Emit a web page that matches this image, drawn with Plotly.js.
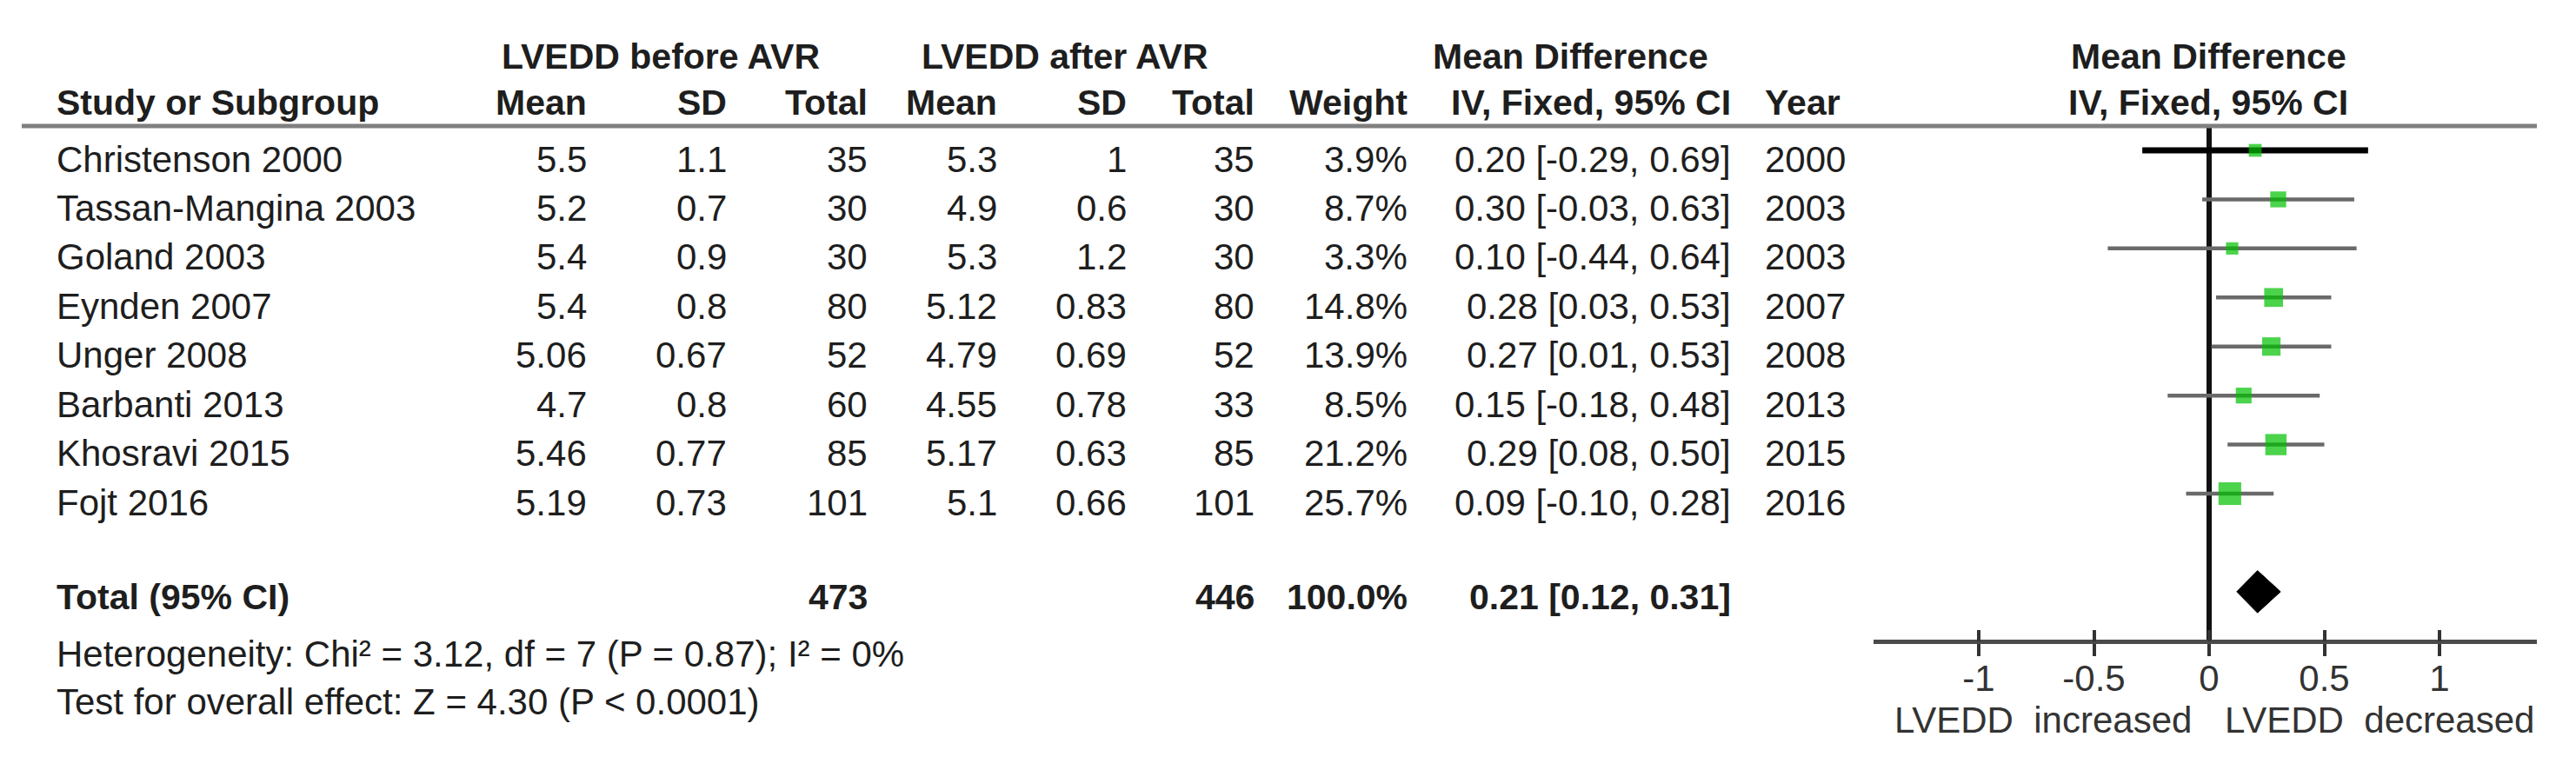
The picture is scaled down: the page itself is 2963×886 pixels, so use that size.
<!DOCTYPE html>
<html>
<head>
<meta charset="utf-8">
<script src="https://cdn.plot.ly/plotly-3.0.1.min.js"></script>
<style>html,body{margin:0;padding:0;background:#fff;}#chart{width:2963px;height:886px;}</style>
</head>
<body>
<div id="chart"></div>
<script>
// ---- data ----
const studies = ['Christenson 2000', 'Tassan-Mangina 2003', 'Goland 2003', 'Eynden 2007', 'Unger 2008', 'Barbanti 2013', 'Khosravi 2015', 'Fojt 2016'];
const meanBefore = [5.5, 5.2, 5.4, 5.4, 5.06, 4.7, 5.46, 5.19];
const sdBefore = [1.1, 0.7, 0.9, 0.8, 0.67, 0.8, 0.77, 0.73];
const nBefore = [35, 30, 30, 80, 52, 60, 85, 101];
const meanAfter = [5.3, 4.9, 5.3, 5.12, 4.79, 4.55, 5.17, 5.1];
const sdAfter = [1, 0.6, 1.2, 0.83, 0.69, 0.78, 0.63, 0.66];
const nAfter = [35, 30, 30, 80, 52, 33, 85, 101];
const weights = [3.9, 8.7, 3.3, 14.8, 13.9, 8.5, 21.2, 25.7];
const md = [0.20, 0.30, 0.10, 0.28, 0.27, 0.15, 0.29, 0.09];
const ciLow = [-0.29, -0.03, -0.44, 0.03, 0.01, -0.18, 0.08, -0.10];
const ciHigh = [0.69, 0.63, 0.64, 0.53, 0.53, 0.48, 0.50, 0.28];
const years = [2000, 2003, 2003, 2007, 2008, 2013, 2015, 2016];
const totalBefore = 473;
const totalAfter = 446;
const totalWeight = 100.0;
const totalMD = 0.21;
const totalLow = 0.12;
const totalHigh = 0.31;
const heterogeneity = 'Heterogeneity: Chi² = 3.12, df = 7 (P = 0.87); I² = 0%';
const overallTest = 'Test for overall effect: Z = 4.30 (P < 0.0001)';
const tickVals = [-1, -0.5, 0, 0.5, 1];
const tickText = ['-1', '-0.5', '0', '0.5', '1'];
const favourLeft = 'LVEDD  increased';
const favourRight = 'LVEDD  decreased';

// ---- layout helpers ----
const W = 2963, H = 886;
const ROW0 = 173, ROWSTEP = 56.43;
const yTop = -ROW0 / ROWSTEP, yBot = (H - ROW0) / ROWSTEP;
const rowOf = p => (p - ROW0) / ROWSTEP;
const px = x => x / W;
const FONT = 'Liberation Sans, Arial, sans-serif';
const TXT = '#1e1e1e';
const FS = 42;
const rowIdx = studies.map((_, i) => i);
const totalRow = 9;

const ann = [];
function t(text, x, y, anchor, opts) {
  opts = opts || {};
  ann.push({
    text: opts.bold ? '<b>' + text + '</b>' : text,
    x: px(x), xref: 'paper', xanchor: anchor,
    y: y, yref: 'y', yanchor: 'middle', yshift: opts.yshift || 0,
    showarrow: false,
    font: {family: FONT, size: opts.size || FS, color: opts.color || TXT}
  });
}

// headers
const h1 = rowOf(65), h2 = rowOf(118);
t('LVEDD before AVR', 760, h1, 'center', {bold: true, size: 41});
t('LVEDD after AVR', 1225, h1, 'center', {bold: true, size: 41});
t('Mean Difference', 1806, h1, 'center', {bold: true, size: 41});
t('Mean Difference', 2540, h1, 'center', {bold: true, size: 41});
t('Study or Subgroup', 63, h2, 'left', {bold: true, size: 41});
t('Mean', 677, h2, 'right', {bold: true, size: 41});
t('SD', 838, h2, 'right', {bold: true, size: 41});
t('Total', 1000, h2, 'right', {bold: true, size: 41});
t('Mean', 1149, h2, 'right', {bold: true, size: 41});
t('SD', 1298, h2, 'right', {bold: true, size: 41});
t('Total', 1445, h2, 'right', {bold: true, size: 41});
t('Weight', 1621, h2, 'right', {bold: true, size: 41});
t('IV, Fixed, 95% CI', 1993, h2, 'right', {bold: true, size: 41});
t('Year', 2028, h2, 'left', {bold: true, size: 41});
t('IV, Fixed, 95% CI', 2540, h2, 'center', {bold: true, size: 41});

// study rows
const ys = -10;
studies.forEach((s, i) => {
  t(s, 63, i, 'left', {yshift: ys});
  t(String(meanBefore[i]), 677, i, 'right', {yshift: ys});
  t(String(sdBefore[i]), 838, i, 'right', {yshift: ys});
  t(String(nBefore[i]), 1000, i, 'right', {yshift: ys});
  t(String(meanAfter[i]), 1149, i, 'right', {yshift: ys});
  t(String(sdAfter[i]), 1298, i, 'right', {yshift: ys});
  t(String(nAfter[i]), 1445, i, 'right', {yshift: ys});
  t(weights[i].toFixed(1) + '%', 1621, i, 'right', {yshift: ys});
  t(md[i].toFixed(2) + ' [' + ciLow[i].toFixed(2) + ', ' + ciHigh[i].toFixed(2) + ']', 1993, i, 'right', {yshift: ys});
  t(String(years[i]), 2028, i, 'left', {yshift: ys});
});

// total row
t('Total (95% CI)', 63, totalRow, 'left', {bold: true, size: 41, yshift: -6});
t(String(totalBefore), 1000, totalRow, 'right', {bold: true, size: 41, yshift: -6});
t(String(totalAfter), 1445, totalRow, 'right', {bold: true, size: 41, yshift: -6});
t(totalWeight.toFixed(1) + '%', 1621, totalRow, 'right', {bold: true, size: 41, yshift: -6});
t(totalMD.toFixed(2) + ' [' + totalLow.toFixed(2) + ', ' + totalHigh.toFixed(2) + ']', 1993, totalRow, 'right', {bold: true, size: 41, yshift: -6});
t(heterogeneity, 63, rowOf(752), 'left', {size: 42});
t(overallTest, 63, rowOf(807), 'left', {size: 42});

// favour labels
ann.push({text: favourLeft, x: -0.72, xref: 'x', xanchor: 'center', y: rowOf(828), yref: 'y', yanchor: 'middle', showarrow: false, font: {family: FONT, size: FS, color: '#333'}});
ann.push({text: favourRight, x: 0.74, xref: 'x', xanchor: 'center', y: rowOf(828), yref: 'y', yanchor: 'middle', showarrow: false, font: {family: FONT, size: FS, color: '#333'}});

// ---- traces ----
const restIdx = rowIdx.filter(i => i !== 0);
const firstIdx = [0];
function ciTrace(idx, color, thick) {
  return {
    type: 'scatter', mode: 'markers', xaxis: 'x', yaxis: 'y',
    x: idx.map(i => md[i]), y: idx.map(i => rowIdx[i]),
    error_x: {type: 'data', symmetric: false,
      array: idx.map(i => ciHigh[i] - md[i]),
      arrayminus: idx.map(i => md[i] - ciLow[i]),
      color: color, thickness: thick, width: 0},
    marker: {symbol: 'square', color: '#00c000',
      size: idx.map(i => 7.4 + 3.7 * Math.sqrt(weights[i])), line: {width: 0}},
    hoverinfo: 'skip', showlegend: false
  };
}
const dh = 0.43;
const diamond = {
  type: 'scatter', mode: 'lines', xaxis: 'x', yaxis: 'y',
  x: [totalLow, totalMD, totalHigh, totalMD, totalLow],
  y: [totalRow, totalRow - dh, totalRow, totalRow + dh, totalRow],
  fill: 'toself', fillcolor: '#000', line: {color: '#000', width: 1},
  hoverinfo: 'skip', showlegend: false
};

const axPos = 1 - 738 / H;
const xRange = [(2155 - 2541) / 265, (2918 - 2541) / 265];
const layout = {
  width: W, height: H,
  margin: {l: 0, r: 0, t: 0, b: 0, pad: 0},
  paper_bgcolor: '#fff', plot_bgcolor: 'rgba(0,0,0,0)',
  showlegend: false,
  xaxis: {domain: [px(2155), px(2918)], range: xRange, anchor: 'free', position: axPos,
    showgrid: false, zeroline: false, showline: true, linecolor: '#4a4a4a', linewidth: 5,
    ticks: 'outside', ticklen: 14, tickwidth: 4, tickcolor: '#333', ticklabelstandoff: -10,
    tickvals: tickVals, ticktext: tickText,
    tickfont: {family: FONT, size: FS, color: '#333'}, fixedrange: true},
  xaxis2: {overlaying: 'x', matches: 'x', range: xRange, anchor: 'free', position: axPos,
    showgrid: false, zeroline: false, showline: false, showticklabels: false,
    ticks: 'inside', ticklen: 13, tickwidth: 4, tickcolor: '#333', tickvals: tickVals},
  yaxis: {domain: [0, 1], range: [yBot, yTop], visible: false, fixedrange: true},
  shapes: [
    {type: 'line', xref: 'paper', yref: 'y', x0: px(25), x1: px(2918), y0: rowOf(145), y1: rowOf(145), line: {color: '#808080', width: 5}},
    {type: 'line', xref: 'x', yref: 'y', x0: 0, x1: 0, y0: rowOf(147), y1: rowOf(738), line: {color: '#111', width: 6}, layer: 'below'}
  ],
  annotations: ann
};
const dummy = {type: 'scatter', mode: 'markers', x: [0], y: [0], xaxis: 'x2', yaxis: 'y', marker: {opacity: 0}, hoverinfo: 'skip', showlegend: false};
Plotly.newPlot('chart', [ciTrace(restIdx, '#6a6a6a', 4.5), ciTrace(firstIdx, '#000', 7), diamond, dummy], layout, {staticPlot: true});
</script>
</body>
</html>
